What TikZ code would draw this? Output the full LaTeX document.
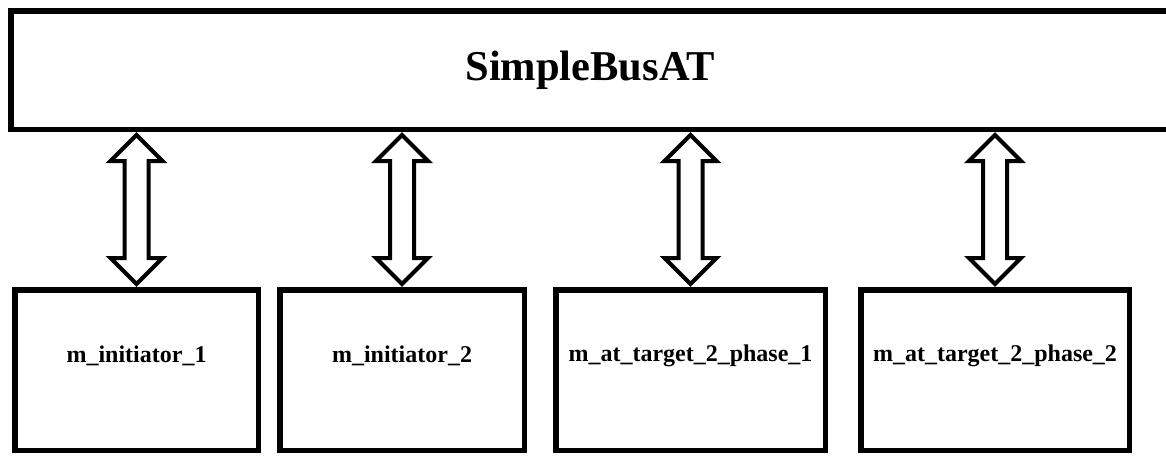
\documentclass[tikz,border=0pt]{standalone}
\usepackage{fontspec}
\setmainfont{Liberation Serif}
\usetikzlibrary{positioning, calc}

\tikzset{
  unitbox/.style={draw, line width=5.5pt, minimum width=#1, minimum height=160.5pt,
    inner sep=0pt, anchor=north west},
  unitlabel/.style={font=\bfseries\fontsize{24}{24}\selectfont},
  busarrow/.style={draw, line width=4pt, fill=white, line join=miter}
}

% hollow double arrow between the bus and one unit
\newcommand{\busarrow}[1]{%
  \draw[busarrow] ($(bus.south -| #1.north)+(0,3)$) coordinate (t)
    -- ++(26,26) -- ++(-14,0) -- ($(#1.north)+(12,-29)$) -- ++(14,0)
    -- ($(#1.north)+(0,-3)$)
    -- ++(-26,-26) -- ++(14,0) -- ($(t)+(-12,26)$) -- ++(-14,0) -- cycle;
}

\begin{document}
\begin{tikzpicture}[x=1pt, y=-1pt]
        \useasboundingbox (0,0) rectangle (1166,455);

        % The bus
        \node[draw, line width=5.5pt, minimum width=1159pt, minimum height=118.5pt,
              inner sep=0pt, anchor=north west,
              font=\bfseries\fontsize{42.5}{42.5}\selectfont] (bus) at (8,8) {SimpleBusAT};

        % Units connected to the bus
        \node[unitbox=243.5pt] (m1) at (12,287) {};
        \node[unitbox=244.5pt] (m2) at (277,287) {};
        \node[unitbox=269.5pt] (m3) at (553,287) {};
        \node[unitbox=268.5pt] (m4) at (858,287) {};

        \node[unitlabel] at ([yshift=14pt]m1.center) {m\_initiator\_1};
        \node[unitlabel] at ([yshift=14pt]m2.center) {m\_initiator\_2};
        \node[unitlabel] at ([yshift=14pt]m3.center) {m\_at\_target\_2\_phase\_1};
        \node[unitlabel] at ([yshift=14pt]m4.center) {m\_at\_target\_2\_phase\_2};

        % Bus connections
        \foreach \u in {m1, m2, m3, m4} {
          \busarrow{\u}
        }
    \end{tikzpicture}
\end{document}
